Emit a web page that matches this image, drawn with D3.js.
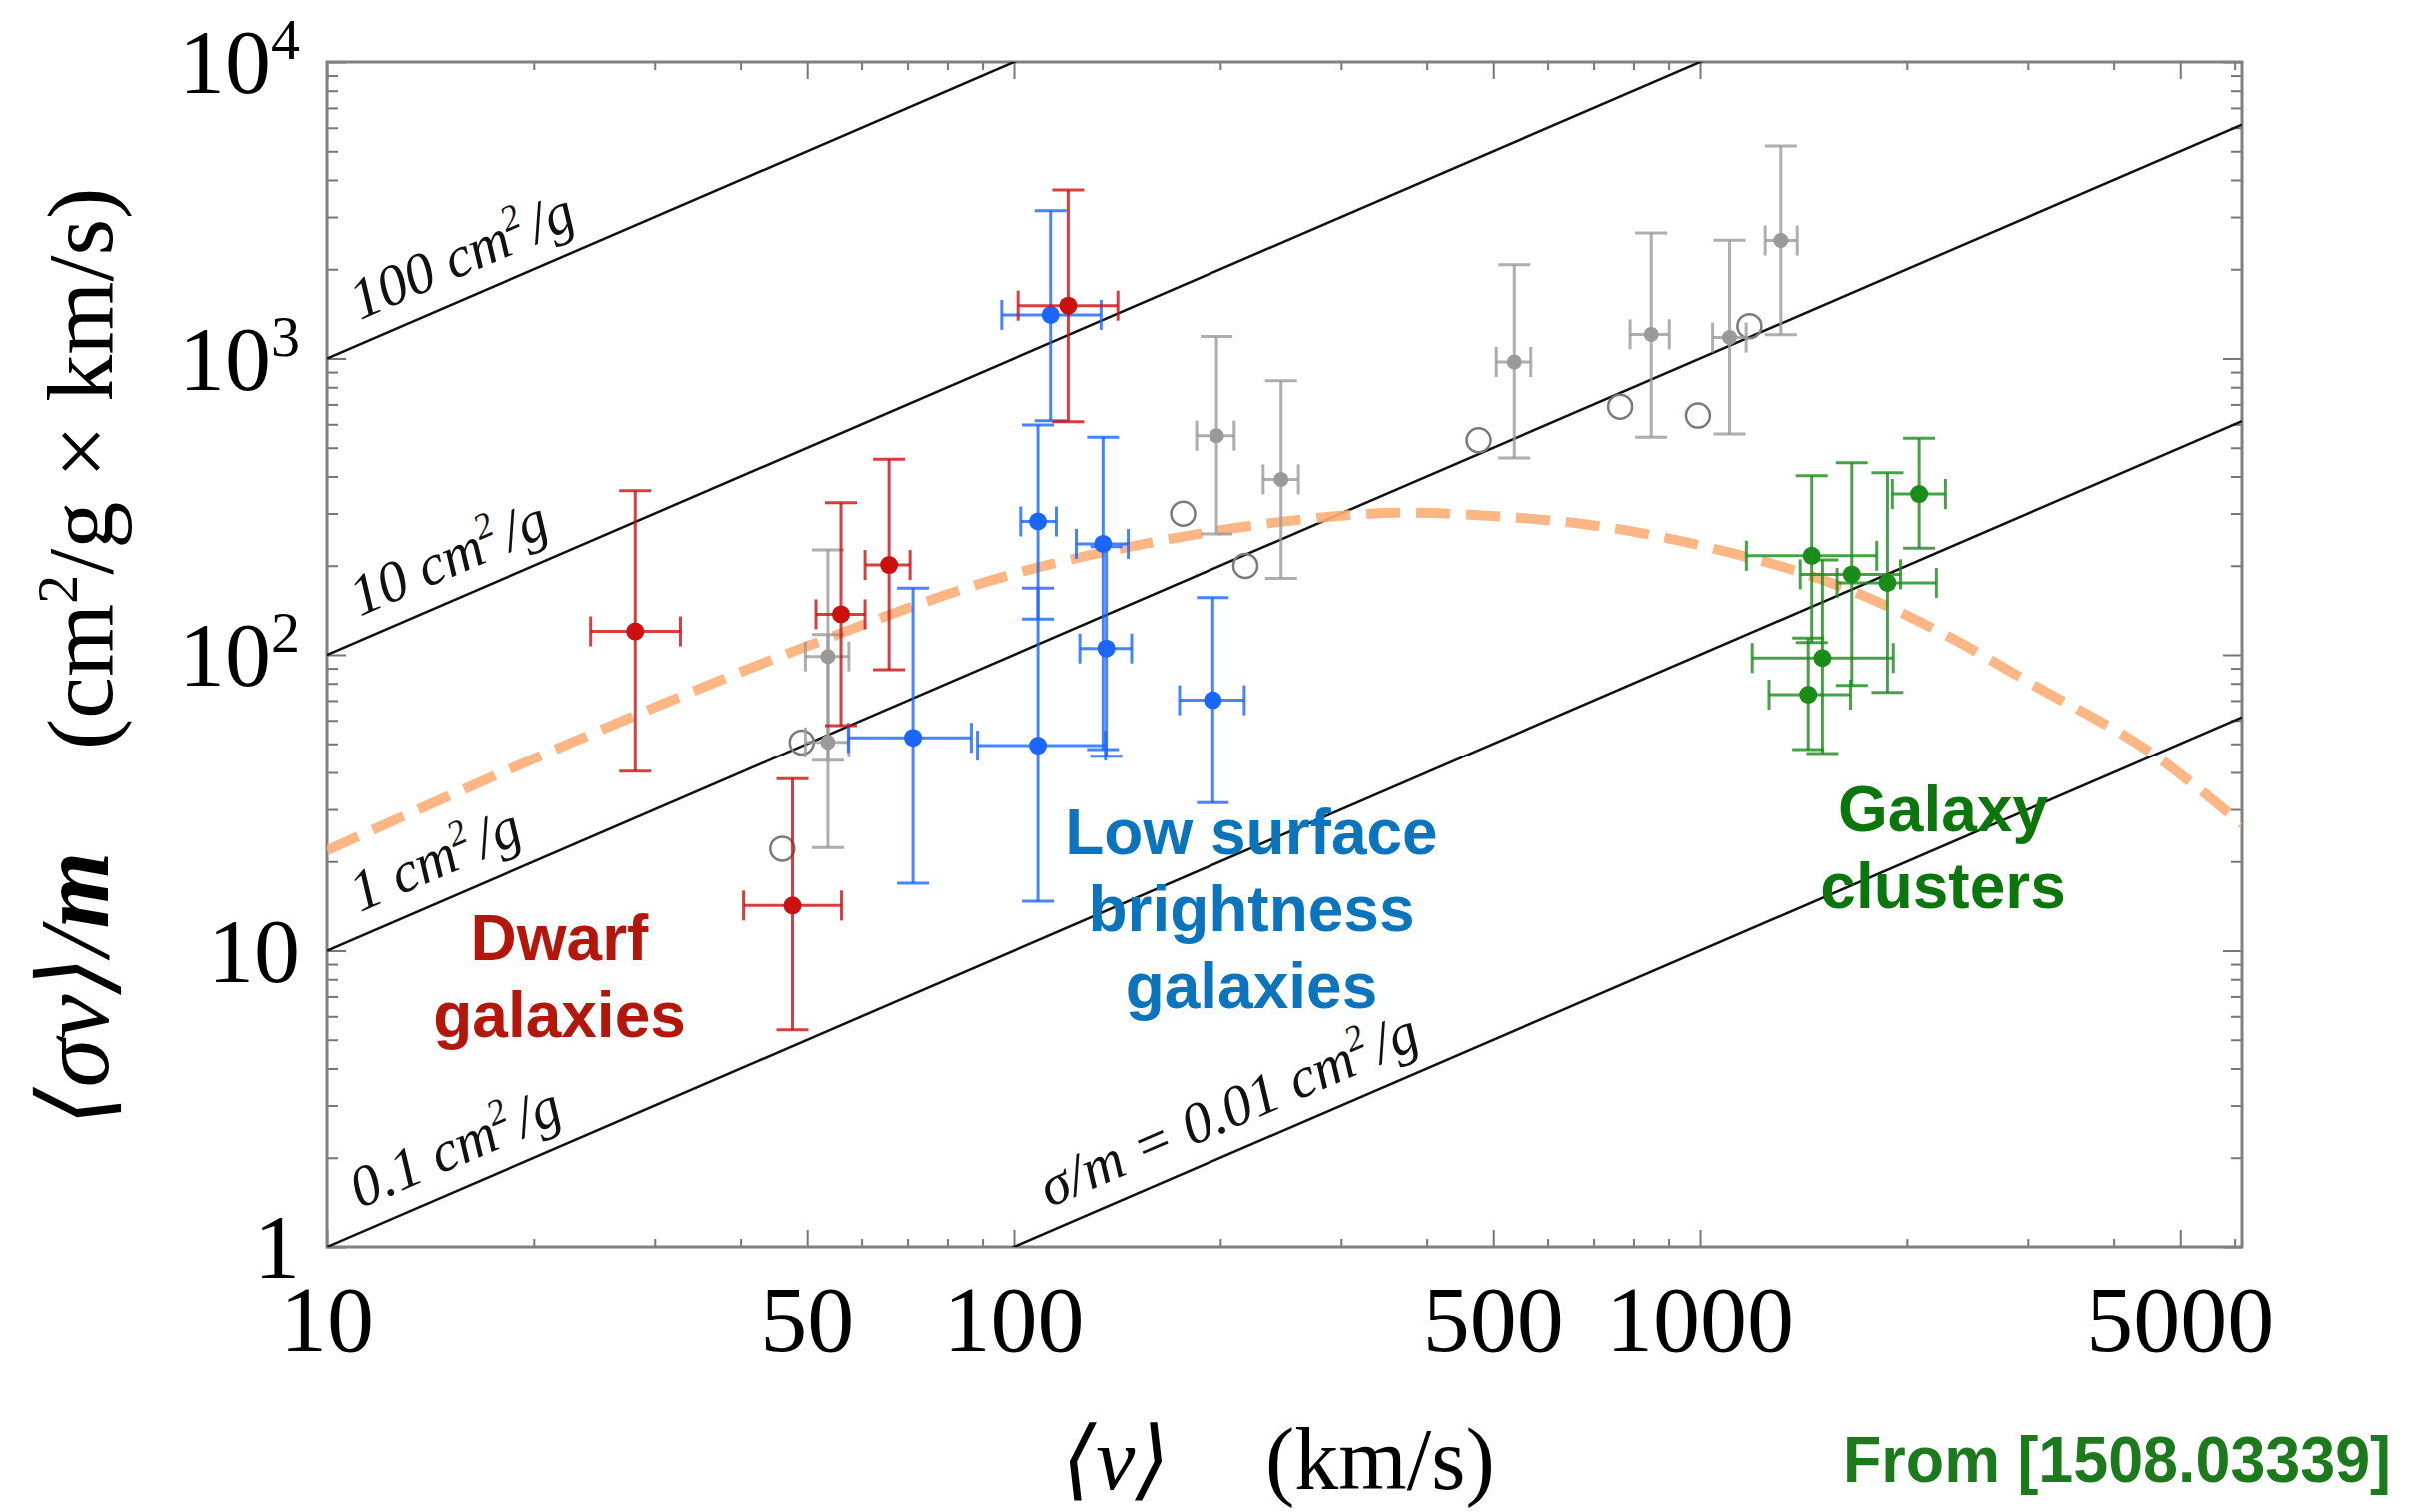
<!DOCTYPE html>
<html>
<head>
<meta charset="utf-8">
<script src="https://cdn.jsdelivr.net/npm/d3@7"></script>
<style>
  body { margin: 0; background: #fff; }
  svg { display: block; }
  .serif { font-family: "Liberation Serif", "DejaVu Serif", serif; }
  .label { font-family: "Liberation Sans", Arial, sans-serif; font-weight: bold; }
</style>
</head>
<body>
<svg width="2421" height="1513"></svg>
<script>
// each row: [v, vLo, vHi, sigmaV/m, lo, hi]
var dwarf = [
  [28.1, 24.2, 32.7, 120, 40.4, 358],
  [56.0, 51.5, 60.7, 137, 57.6, 326],
  [65.8, 60.7, 70.6, 201, 89, 457],
  [47.6, 40.4, 56.1, 14.2, 5.4, 38.1],
  [120, 101.4, 141.8, 1507, 612, 3700]
];
var lsb = [
  [71.3, 57.4, 86.7, 52.4, 16.9, 168],
  [108.4, 88.5, 136, 49.3, 14.7, 168],
  [108.4, 102.3, 115.3, 282, 132, 597],
  [134.9, 123.3, 146.8, 237, 47.8, 542],
  [136.4, 124.8, 148.5, 105, 45.4, 232],
  [195, 174.4, 216.8, 70.2, 31.6, 156],
  [113.1, 96, 134, 1403, 617, 3150]
];
var grayFilled = [
  [53.6, 49.7, 57.5, 98.7, 44, 226],
  [53.6, 49.7, 57.5, 50.6, 22.3, 117],
  [197.5, 184.7, 209.6, 549, 256, 1186],
  [245.3, 231, 260, 391, 181, 841],
  [536.5, 505, 567, 973, 462, 2070],
  [849, 791, 902, 1206, 543, 2650],
  [1104, 1043, 1167, 1177, 556, 2506],
  [1311, 1244, 1385, 2500, 1203, 5210]
];
var grayOpen = [[49.1, 50.5], [46.0, 22.1], [176.5, 299.5], [217.6, 199.7], [476, 530], [765, 688], [993, 642], [1180, 1285]];
var clusters = [
  [1454, 1168, 1808, 216, 110, 402],
  [1663, 1399, 1958, 187, 78.8, 445],
  [1874, 1583, 2208, 175, 74.6, 412],
  [2084, 1905, 2276, 349, 229, 538],
  [1507, 1191, 1911, 97.5, 46.4, 209],
  [1437, 1260, 1656, 73.3, 47.8, 114]
];

// SIDM fit (dashed)
var fitV = [10, 21.8, 47.7, 98.6, 157.8, 287, 364.6, 522, 704, 1024, 1488, 1666, 2304, 3059, 4637, 6150];
var fitS = [21.8, 48.5, 102.6, 186, 239, 292, 302, 292, 273, 231, 181, 164, 115, 79, 45, 26.7];

// constant sigma/m lines (cm^2/g) and where their labels start
var sigmas = [100, 10, 1, 0.1, 0.01];
var sigmaPrefix = ["100 cm", "10 cm", "1 cm", "0.1 cm", "\u03c3/m = 0.01 cm"];
var labelV = [11.5, 11.5, 11.5, 11.5, 116];

var xLabels = [10, 50, 100, 500, 1000, 5000];
var yLabels = [[1, "1", ""], [10, "10", ""], [100, "10", "2"], [1000, "10", "3"], [10000, "10", "4"]];

var svg = d3.select("svg"),
    margin = {top: 62, right: 178, bottom: 265, left: 327},
    width = +svg.attr("width") - margin.left - margin.right,
    height = +svg.attr("height") - margin.top - margin.bottom,
    g = svg.append("g").attr("transform", "translate(" + margin.left + "," + margin.top + ")");

var x = d3.scaleLog().domain([10, 6150]).range([0, width]),
    y = d3.scaleLog().domain([1, 1e4]).range([height, 0]);

svg.append("defs").append("clipPath").attr("id", "plot")
  .append("rect").attr("width", width).attr("height", height);

// ticks (inward on all four sides)
var xMinor = x.ticks().filter(function(d) { return xLabels.indexOf(d) < 0; }),
    yMajor = yLabels.map(function(d) { return d[0]; }),
    yMinor = y.ticks().filter(function(d) { return yMajor.indexOf(d) < 0; });

function tickAxis(axis, vals, size, tr) {
  g.append("g")
      .attr("class", "ticks")
      .attr("transform", tr)
      .call(axis.tickValues(vals).tickSizeInner(-size).tickSizeOuter(0).tickFormat(""))
      .call(function(s) { s.select(".domain").remove(); });
}
tickAxis(d3.axisBottom(x), xMinor, 8, "translate(0," + height + ")");
tickAxis(d3.axisBottom(x), xLabels, 17, "translate(0," + height + ")");
tickAxis(d3.axisTop(x), xMinor, 8, "translate(0,0)");
tickAxis(d3.axisTop(x), xLabels, 17, "translate(0,0)");
tickAxis(d3.axisLeft(y), yMinor, 11, "translate(0,0)");
tickAxis(d3.axisLeft(y), yMajor, 19, "translate(0,0)");
tickAxis(d3.axisRight(y), yMinor, 11, "translate(" + width + ",0)");
tickAxis(d3.axisRight(y), yMajor, 19, "translate(" + width + ",0)");
g.selectAll(".ticks line").attr("stroke", "#777").attr("stroke-width", 2);

g.append("rect")
    .attr("width", width).attr("height", height)
    .attr("fill", "none").attr("stroke", "#808080").attr("stroke-width", 3);

// diagonal lines of constant sigma/m
var plot = g.append("g").attr("clip-path", "url(#plot)");
plot.selectAll(".sig")
  .data(sigmas)
  .enter().append("line")
    .attr("class", "sig")
    .attr("x1", x(10)).attr("y1", function(k) { return y(k * 10); })
    .attr("x2", x(6150)).attr("y2", function(k) { return y(k * 6150); })
    .attr("stroke", "#111").attr("stroke-width", 2.5);

var angle = -Math.atan2(y(10) - y(100), x(100) - x(10)) * 180 / Math.PI;
var lab = g.append("g").attr("class", "serif")
  .selectAll("text")
  .data(sigmas)
  .enter().append("text")
    .attr("transform", function(k, i) {
      return "translate(" + x(labelV[i]) + "," + y(k * labelV[i]) + ") rotate(" + angle + ")";
    })
    .attr("y", -22)
    .attr("font-size", 58)
    .attr("font-style", "italic")
    .attr("fill", "#111");
lab.append("tspan").text(function(k, i) { return sigmaPrefix[i]; });
lab.append("tspan").attr("font-size", 36).attr("dy", -23).text("2");
lab.append("tspan").attr("dy", 23).attr("dx", 6).text("/g");

// dashed fit curve
var fit = fitV.map(function(v, i) { return {v: v, s: fitS[i]}; });
plot.append("path")
    .datum(fit)
    .attr("fill", "none")
    .attr("stroke", "#ffae78")
    .attr("stroke-width", 10)
    .attr("stroke-dasharray", "34,16")
    .attr("opacity", 0.9)
    .attr("d", d3.line().curve(d3.curveMonotoneX)
      .x(function(d) { return x(d.v); })
      .y(function(d) { return y(d.s); }));

// error bars + points
function drawSet(data, color, r) {
  var s = g.append("g")
      .attr("stroke", color)
      .attr("stroke-width", 3)
    .selectAll("g")
    .data(data)
    .enter().append("g");

  s.append("line").attr("opacity", 0.8)
      .attr("x1", function(d) { return x(d[0]); }).attr("x2", function(d) { return x(d[0]); })
      .attr("y1", function(d) { return y(d[4]); }).attr("y2", function(d) { return y(d[5]); });
  [4, 5].forEach(function(k) {
    s.append("line").attr("opacity", 0.8)
        .attr("x1", function(d) { return x(d[0]) - 16; }).attr("x2", function(d) { return x(d[0]) + 16; })
        .attr("y1", function(d) { return y(d[k]); }).attr("y2", function(d) { return y(d[k]); });
  });
  s.append("line").attr("opacity", 0.8)
      .attr("x1", function(d) { return x(d[1]); }).attr("x2", function(d) { return x(d[2]); })
      .attr("y1", function(d) { return y(d[3]); }).attr("y2", function(d) { return y(d[3]); });
  [1, 2].forEach(function(k) {
    s.append("line").attr("opacity", 0.8)
        .attr("x1", function(d) { return x(d[k]); }).attr("x2", function(d) { return x(d[k]); })
        .attr("y1", function(d) { return y(d[3]) - 15; }).attr("y2", function(d) { return y(d[3]) + 15; });
  });
  s.append("circle")
      .attr("cx", function(d) { return x(d[0]); })
      .attr("cy", function(d) { return y(d[3]); })
      .attr("r", r)
      .attr("stroke", "none")
      .attr("fill", color);
}

g.append("g").selectAll("circle")
  .data(grayOpen)
  .enter().append("circle")
    .attr("cx", function(d) { return x(d[0]); })
    .attr("cy", function(d) { return y(d[1]); })
    .attr("r", 12)
    .attr("fill", "none")
    .attr("stroke", "#7a7a7a")
    .attr("stroke-width", 2.5);

drawSet(grayFilled, "#9a9a9a", 7.5);
drawSet(lsb, "#1a66ff", 9);
drawSet(dwarf, "#cc1010", 9);
drawSet(clusters, "#1a8c1a", 9);

// tick labels
svg.append("g").attr("class", "serif")
    .attr("font-size", 94).attr("text-anchor", "middle").attr("fill", "#000")
  .selectAll("text")
  .data(xLabels)
  .enter().append("text")
    .attr("x", function(d) { return margin.left + x(d); })
    .attr("y", margin.top + height + 104)
    .text(function(d) { return d; });

var yl = svg.append("g").attr("class", "serif")
    .attr("font-size", 92).attr("text-anchor", "end").attr("fill", "#000")
  .selectAll("text")
  .data(yLabels)
  .enter().append("text")
    .attr("x", 300)
    .attr("y", function(d) { return margin.top + y(d[0]) + 31; });
yl.append("tspan").text(function(d) { return d[1]; });
yl.append("tspan").attr("font-size", 58).attr("dy", -34).text(function(d) { return d[2]; });

// axis titles
var yt = svg.append("g").attr("class", "serif").attr("fill", "#000");
yt.append("text")
    .attr("transform", "translate(108,1127) rotate(-90)")
    .attr("font-size", 99)
    .attr("font-style", "italic")
    .html("\u27e8\u03c3<tspan>v</tspan>\u27e9/<tspan font-weight='bold'>m</tspan>");
var yu = yt.append("text")
    .attr("font-size", 94)
    .attr("transform", "translate(112,750) rotate(-90)");
yu.append("tspan").text("(cm");
yu.append("tspan").attr("font-size", 58).attr("dy", -35).text("2");
yu.append("tspan").attr("dy", 35).text("/g \u00d7 km/s)");

var xt = svg.append("g").attr("class", "serif").attr("font-size", 88).attr("fill", "#000");
xt.append("text").attr("x", 1062).attr("y", 1490).attr("font-style", "italic").text("\u27e8v\u27e9");
xt.append("text").attr("x", 1266).attr("y", 1490).text("(km/s)");

// group labels: anchor (v, value) of the first line's baseline centre
var groups = [
  {lines: ["Dwarf", "galaxies"], v: 21.8, s: 9.3, color: "#b3170b"},
  {lines: ["Low surface", "brightness", "galaxies"], v: 222, s: 21.2, color: "#0b74bc"},
  {lines: ["Galaxy", "clusters"], v: 2258, s: 25.3, color: "#0b760b"}
];
var gl = g.append("g").attr("class", "label").attr("font-size", 64).attr("text-anchor", "middle")
  .selectAll("text")
  .data(groups)
  .enter().append("text")
    .attr("fill", function(d) { return d.color; })
    .attr("transform", function(d) { return "translate(" + x(d.v) + "," + y(d.s) + ")"; });
gl.selectAll("tspan")
  .data(function(d) { return d.lines; })
  .enter().append("tspan")
    .attr("x", 0)
    .attr("dy", function(d, i) { return i ? 77 : 0; })
    .text(function(d) { return d; });

svg.append("text")
    .attr("class", "label")
    .attr("x", 1844).attr("y", 1483)
    .attr("text-anchor", "start")
    .attr("font-size", 64)
    .attr("fill", "#1c7a1c")
    .attr("textLength", 548)
    .attr("lengthAdjust", "spacingAndGlyphs")
    .text("From [1508.03339]");
</script>
</body>
</html>
